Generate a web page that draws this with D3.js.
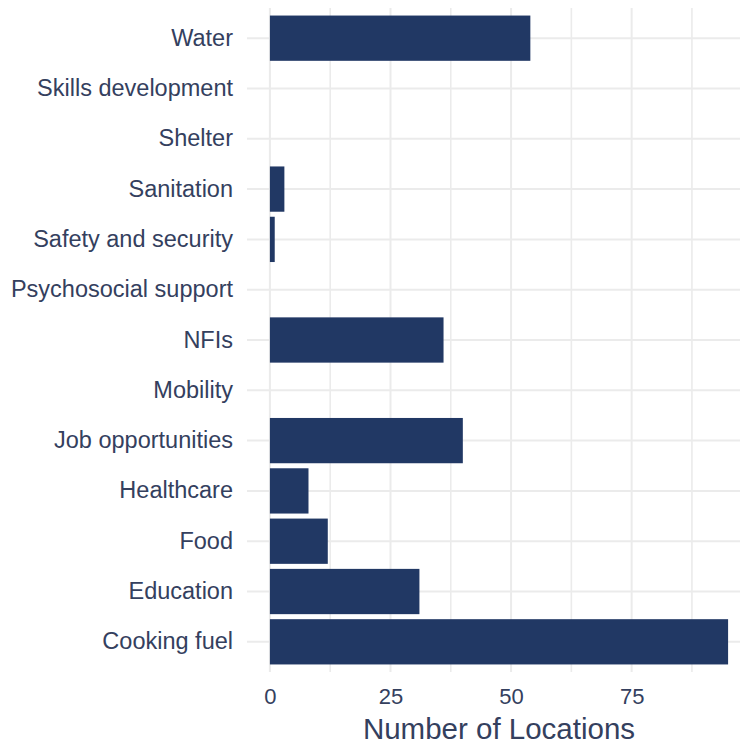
<!DOCTYPE html>
<html>
<head>
<meta charset="utf-8">
<script src="https://cdn.jsdelivr.net/npm/d3@7"></script>
<style>
  html, body { margin: 0; padding: 0; background: #ffffff; overflow: hidden; }
  svg { display: block; }
</style>
</head>
<body>
<div id="chart"></div>
<script>
const categories = ["Water", "Skills development", "Shelter", "Sanitation", "Safety and security",
  "Psychosocial support", "NFIs", "Mobility", "Job opportunities", "Healthcare", "Food",
  "Education", "Cooking fuel"];
const values = [54, 0, 0, 3, 1, 0, 36, 0, 40, 8, 12, 31, 95];
const xTicks = [0, 25, 50, 75];
const xMinorTicks = [12.5, 37.5, 62.5, 87.5];
const xTitle = "Number of Locations";

const W = 740, H = 744;
const panel = { left: 247, right: 751, top: 8, bottom: 672 };
const textColor = "#34405e";
const barColor = "#213864";
const gridColor = "#ebebeb";
const font = "'Liberation Sans', Arial, sans-serif";

const svg = d3.select("#chart").append("svg").attr("width", W).attr("height", H);

const maxV = d3.max(values);
const x = d3.scaleLinear()
  .domain([-0.05 * maxV, maxV * 1.05])
  .range([panel.left, panel.right]);

const y = d3.scaleBand()
  .domain(categories)
  .range([panel.top, panel.bottom])
  .paddingInner(0.1)
  .paddingOuter(0.15);

const grid = svg.append("g");
// minor vertical gridlines
grid.selectAll("line.vminor").data(xMinorTicks).join("line")
  .attr("x1", d => x(d)).attr("x2", d => x(d))
  .attr("y1", panel.top).attr("y2", panel.bottom)
  .attr("stroke", gridColor).attr("stroke-width", 1.6);
// major vertical gridlines
grid.selectAll("line.vmajor").data(xTicks).join("line")
  .attr("x1", d => x(d)).attr("x2", d => x(d))
  .attr("y1", panel.top).attr("y2", panel.bottom)
  .attr("stroke", gridColor).attr("stroke-width", 2);
// horizontal gridlines
grid.selectAll("line.h").data(categories).join("line")
  .attr("x1", panel.left).attr("x2", panel.right)
  .attr("y1", d => y(d) + y.bandwidth() / 2).attr("y2", d => y(d) + y.bandwidth() / 2)
  .attr("stroke", gridColor).attr("stroke-width", 2);

// bars
svg.append("g").selectAll("rect").data(categories).join("rect")
  .attr("x", x(0))
  .attr("y", d => y(d))
  .attr("width", (d, i) => Math.max(0, x(values[i]) - x(0)))
  .attr("height", y.bandwidth())
  .attr("fill", barColor);

// y axis labels
const yAxis = d3.axisLeft(y).tickSize(0).tickPadding(14);
const gy = svg.append("g").attr("transform", `translate(${panel.left},0)`).call(yAxis);
gy.select(".domain").remove();
gy.selectAll("text")
  .attr("fill", textColor)
  .style("font-family", font)
  .style("font-size", "23.5px");

// x axis labels
const xAxis = d3.axisBottom(x).tickValues(xTicks).tickSize(0).tickPadding(16);
const gx = svg.append("g").attr("transform", `translate(0,${panel.bottom})`).call(xAxis);
gx.select(".domain").remove();
gx.selectAll("text")
  .attr("fill", textColor)
  .style("font-family", font)
  .style("font-size", "22px");

// x axis title
svg.append("text")
  .attr("x", (panel.left + panel.right) / 2)
  .attr("y", 739)
  .attr("text-anchor", "middle")
  .attr("fill", textColor)
  .style("font-family", font)
  .style("font-size", "29.5px")
  .text(xTitle);
</script>
</body>
</html>
